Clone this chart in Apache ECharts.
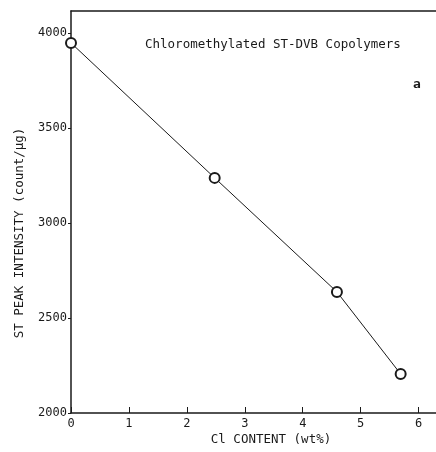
<!DOCTYPE html>
<html>
<head>
<meta charset="utf-8">
<script src="https://cdn.jsdelivr.net/npm/echarts@6/dist/echarts.min.js"></script>
<style>
  html, body { margin: 0; padding: 0; background: #fff; }
  #chart { width: 436px; height: 452px; }
</style>
</head>
<body>
<div id="chart"></div>
<script>
// Chlorine content (wt%) of the copolymers
const clContent = [0.0, 2.48, 4.59, 5.69];
// ST peak intensity (count/µg) measured for each sample
const stIntensity = [3947, 3237, 2637, 2205];
// Axis ranges and tick spacing
const xTicks = [0, 1, 2, 3, 4, 5, 6];
const yTicks = [2000, 2500, 3000, 3500, 4000];

const FONT = '"DejaVu Sans Mono", "Liberation Mono", monospace';
const INK = '#1a1a1a';

const chart = echarts.init(document.getElementById('chart'), null, { renderer: 'canvas' });

chart.setOption({
  backgroundColor: '#ffffff',
  animation: false,
  grid: { left: 71, right: 0, top: 11, bottom: 39 },
  xAxis: [{
    type: 'value',
    min: xTicks[0],
    max: 6.3,
    interval: 1,
    axisLine: { show: true, lineStyle: { color: INK, width: 1.5 } },
    axisTick: { show: true, inside: true, length: 6, lineStyle: { color: INK, width: 1 } },
    axisLabel: { show: true, color: INK, fontFamily: FONT, fontSize: 12, margin: 5, showMaxLabel: false,
                 formatter: v => String(v) },
    splitLine: { show: false }
  }, {
    type: 'value',
    position: 'top',
    min: 0,
    max: 6.3,
    axisLine: { show: true, onZero: false, lineStyle: { color: INK, width: 1.5 } },
    axisTick: { show: false },
    axisLabel: { show: false },
    splitLine: { show: false }
  }],
  yAxis: {
    type: 'value',
    min: yTicks[0],
    max: 4115,
    interval: 500,
    axisLine: { show: true, lineStyle: { color: INK, width: 1.5 } },
    axisTick: { show: true, inside: false, length: 3, lineStyle: { color: INK, width: 1 } },
    axisLabel: { show: true, color: INK, fontFamily: FONT, fontSize: 12, margin: 4, showMaxLabel: false,
                 formatter: v => String(v) },
    splitLine: { show: false }
  },
  graphic: [
    {
      type: 'text',
      left: 145, top: 38,
      style: { text: 'Chloromethylated ST-DVB Copolymers', fill: INK, font: '12.5px ' + FONT }
    },
    {
      type: 'text',
      left: 413, top: 78,
      style: { text: 'a', fill: INK, font: 'bold 13px ' + FONT }
    },
    {
      type: 'text',
      x: 20, y: 233,
      rotation: Math.PI / 2,
      style: { text: 'ST PEAK INTENSITY (count/μg)', fill: INK, font: '12.5px ' + FONT, align: 'center', verticalAlign: 'middle' }
    },
    {
      type: 'text',
      x: 271, y: 440,
      style: { text: 'Cl CONTENT (wt%)', fill: INK, font: '12.5px ' + FONT, align: 'center', verticalAlign: 'middle' }
    }
  ],
  series: [{
    type: 'line',
    xAxisIndex: 0,
    data: clContent.map((x, i) => [x, stIntensity[i]]),
    symbol: 'emptyCircle',
    symbolSize: 10,
    lineStyle: { color: INK, width: 1 },
    itemStyle: { color: INK, borderColor: INK, borderWidth: 1 },
    clip: false
  }]
});
</script>
</body>
</html>
